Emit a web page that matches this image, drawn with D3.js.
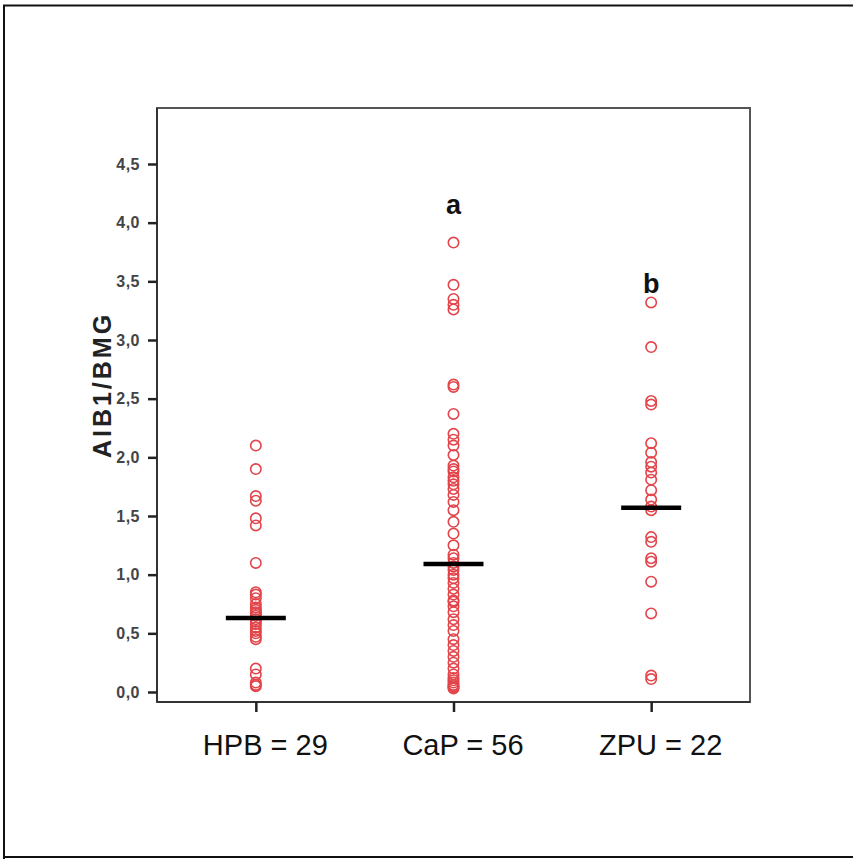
<!DOCTYPE html>
<html>
<head>
<meta charset="utf-8">
<script src="https://cdn.jsdelivr.net/npm/d3@7"></script>
<style>
  body { margin: 0; background: #fff; }
  svg { display: block; }
</style>
</head>
<body>
<script>
// grupos y valores AIB1/BMG
var grupos = ["HPB = 29", "CaP = 56", "ZPU = 22"];
var letras = ["", "a", "b"];
var letrasNivel = [0, 4.07, 3.40];   // altura (en unidades del eje) de la base de cada letra
var hpb = [2.10, 1.90, 1.67, 1.63, 1.48, 1.42, 1.10, 0.85, 0.83, 0.80, 0.75, 0.72, 0.70,
  0.68, 0.67, 0.65, 0.62, 0.60, 0.58, 0.55, 0.52, 0.50, 0.47, 0.45, 0.20, 0.15, 0.08, 0.06, 0.05];
var cap = [3.83, 3.47, 3.35, 3.30, 3.26, 2.62, 2.60, 2.37, 2.20, 2.15, 2.10, 2.02, 1.93, 1.90,
  1.88, 1.83, 1.80, 1.77, 1.73, 1.68, 1.62, 1.55, 1.45, 1.35, 1.25, 1.17, 1.14, 1.10, 1.07,
  1.04, 1.00, 0.97, 0.93, 0.88, 0.83, 0.78, 0.77, 0.73, 0.68, 0.62, 0.57, 0.52, 0.45, 0.40,
  0.35, 0.30, 0.25, 0.20, 0.15, 0.12, 0.10, 0.08, 0.06, 0.05, 0.04, 0.03];
var zpu = [3.32, 2.94, 2.48, 2.45, 2.12, 2.04, 1.96, 1.92, 1.87, 1.81, 1.72, 1.64, 1.58, 1.55,
  1.32, 1.28, 1.14, 1.11, 0.94, 0.67, 0.14, 0.11];
var medianas = [0.63, 1.09, 1.57];
var yTicks = [0, 0.5, 1, 1.5, 2, 2.5, 3, 3.5, 4, 4.5];

var W = 853, H = 859;
var margin = {top: 108, right: 103, bottom: 157, left: 157},
    width = W - margin.left - margin.right,
    height = H - margin.top - margin.bottom;

var svg = d3.select("body").append("svg")
  .attr("width", W)
  .attr("height", H);

// marco exterior
svg.append("path")
  .attr("d", "M4,860 L4,5.5 L860,5.5 M4,857 L860,857")
  .attr("fill", "none")
  .attr("stroke", "#111")
  .attr("stroke-width", 2);

var g = svg.append("g")
  .attr("transform", "translate(" + margin.left + "," + margin.top + ")");

var x = d3.scalePoint().domain(grupos).range([0, width]).padding(0.5);
var y = d3.scaleLinear().domain([0, 4.5]).range([height - 10, 56]);

// caja del grafico
g.append("rect")
  .attr("x", 0).attr("y", 0)
  .attr("width", width).attr("height", height)
  .attr("fill", "none")
  .attr("stroke", "#555")
  .attr("stroke-width", 2);

// eje Y
var ejeY = g.append("g")
  .call(d3.axisLeft(y).tickValues(yTicks).tickSize(9).tickPadding(8)
    .tickFormat(function(d) { return d3.format(".1f")(d).replace(".", ","); }));
ejeY.select(".domain").attr("stroke", "#333").attr("stroke-width", 2)
  .attr("d", "M0,0V" + height);
ejeY.selectAll(".tick line").attr("stroke", "#222").attr("stroke-width", 2.5);
ejeY.selectAll(".tick text")
  .attr("font-family", "Arial, 'Liberation Sans', sans-serif")
  .attr("font-size", 16)
  .attr("font-weight", "bold")
  .attr("letter-spacing", 0.5)
  .attr("fill", "#444");

// eje X
var ejeX = g.append("g")
  .attr("transform", "translate(0," + height + ")")
  .call(d3.axisBottom(x).tickSize(10).tickPadding(22));
ejeX.select(".domain").attr("stroke", "#333").attr("stroke-width", 2)
  .attr("d", "M0,0H" + width);
ejeX.selectAll(".tick line").attr("stroke", "#222").attr("stroke-width", 2.5);
ejeX.selectAll(".tick text")
  .attr("dx", 9)
  .attr("font-family", "Arial, 'Liberation Sans', sans-serif")
  .attr("font-size", 29)
  .attr("fill", "#111");

// titulo eje Y
svg.append("text")
  .attr("transform", "translate(111,385) rotate(-90)")
  .attr("text-anchor", "middle")
  .attr("font-family", "Arial, 'Liberation Sans', sans-serif")
  .attr("font-size", 25)
  .attr("font-weight", "bold")
  .attr("letter-spacing", 3)
  .attr("fill", "#222")
  .text("AIB1/BMG");

// puntos
var series = [hpb, cap, zpu];
series.forEach(function(vals, i) {
  g.append("g").selectAll("circle")
    .data(vals)
    .enter().append("circle")
    .attr("cx", x(grupos[i]))
    .attr("cy", function(d) { return y(d); })
    .attr("r", 5.2)
    .attr("fill", "none")
    .attr("stroke", "#e2444a")
    .attr("stroke-width", 1.6);
});

// medianas
g.append("g").selectAll("line")
  .data(medianas)
  .enter().append("line")
  .attr("x1", function(d, i) { return x(grupos[i]) - 30; })
  .attr("x2", function(d, i) { return x(grupos[i]) + 30; })
  .attr("y1", function(d) { return y(d); })
  .attr("y2", function(d) { return y(d); })
  .attr("stroke", "#000")
  .attr("stroke-width", 4.5);

// letras de significancia
g.append("g").selectAll("text")
  .data(letras)
  .enter().append("text")
  .attr("x", function(d, i) { return x(grupos[i]); })
  .attr("y", function(d, i) { return y(letrasNivel[i]); })
  .attr("text-anchor", "middle")
  .attr("font-family", "Arial, 'Liberation Sans', sans-serif")
  .attr("font-size", 27)
  .attr("font-weight", "bold")
  .attr("fill", "#111")
  .text(function(d) { return d; });
</script>
</body>
</html>
